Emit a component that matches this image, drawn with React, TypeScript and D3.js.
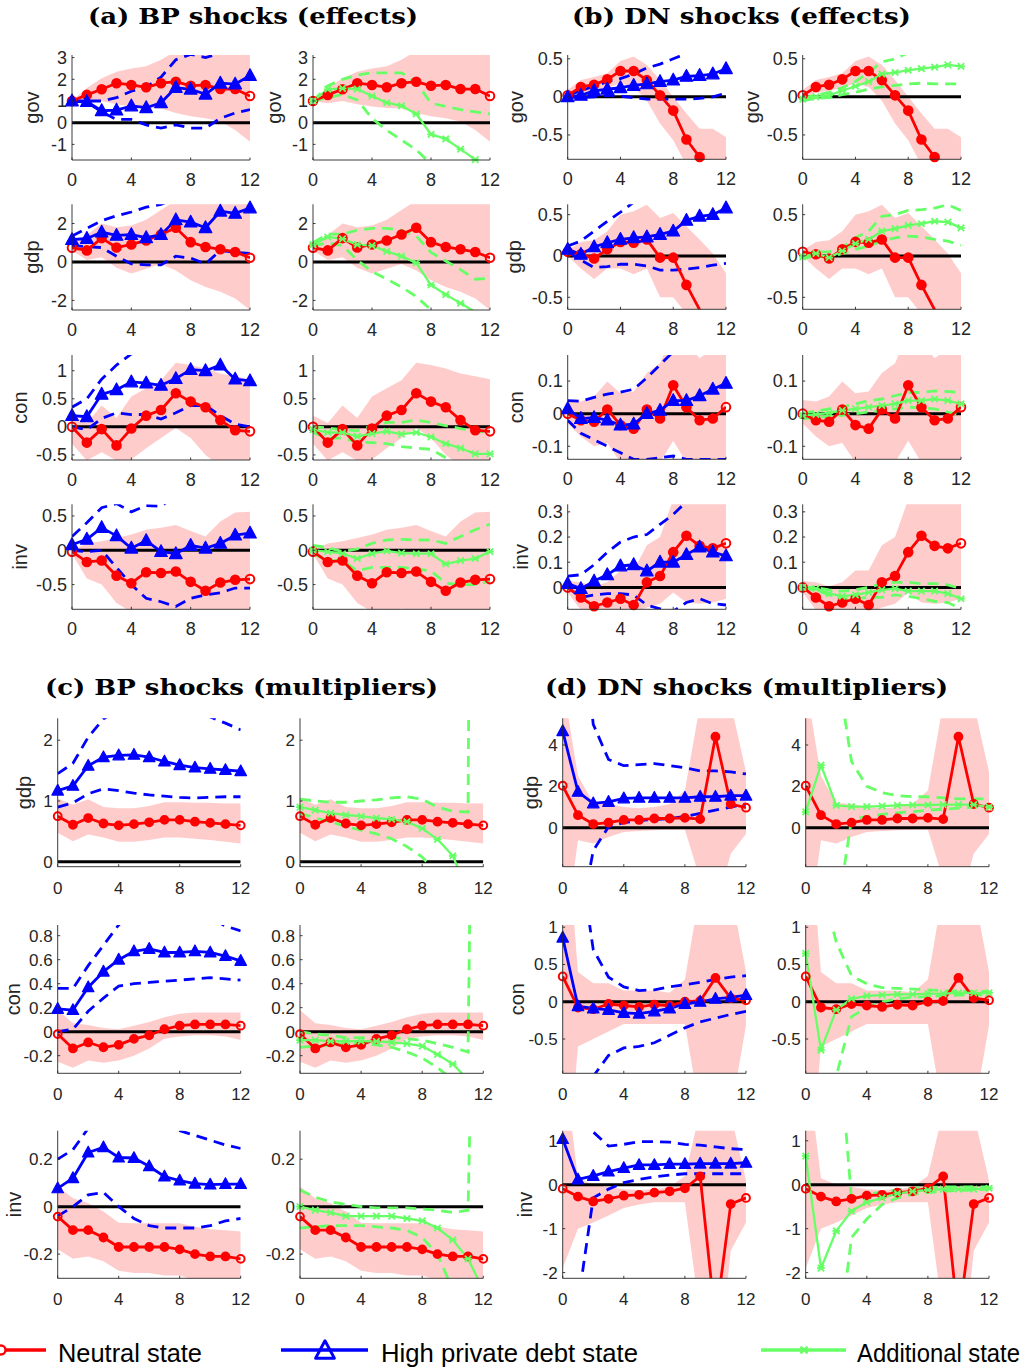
import React from 'react';
import * as d3 from 'd3';

// horizon (quarters) and x tick values
const horizon = [0, 1, 2, 3, 4, 5, 6, 7, 8, 9, 10, 11, 12];
const xTicks = [0, 4, 8, 12];

// ---------- (a) BP shocks (effects) ----------
const aGovN = [1.0, 1.28, 1.54, 1.82, 1.74, 1.63, 1.82, 1.89, 1.7, 1.74, 1.55, 1.55, 1.23];
const aGovNHi = [1.0, 1.6, 2.05, 2.35, 2.5, 2.6, 2.9, 3.3, 3.4, 3.5, 3.5, 3.5, 3.6];
const aGovNLo = [1.0, 0.9, 1.0, 0.85, 0.75, 0.68, 0.65, 0.45, 0.3, 0.2, 0.05, -0.34, -0.88];
const aGovD = [1.0, 0.97, 0.55, 0.58, 0.77, 0.69, 0.92, 1.62, 1.54, 1.31, 1.82, 1.78, 2.17];
const aGovDHi = [1.0, 1.0, 1.0, 1.15, 1.45, 1.65, 2.1, 2.9, 3.15, 3.0, 3.2, 3.3, 3.4];
const aGovDLo = [1.0, 0.95, 0.5, 0.15, 0.15, -0.1, -0.25, -0.1, -0.25, -0.25, 0.2, 0.45, 0.6];
const aGovA = [1.0, 1.54, 1.58, 1.55, 1.23, 0.92, 0.78, 0.4, -0.54, -0.75, -1.22, -1.7, -2.3];
const aGovAHi = [1.0, 1.7, 2.0, 2.2, 2.3, 2.3, 2.3, 1.85, 0.9, 0.75, 0.6, 0.5, 0.4];
const aGovALo = [1.0, 1.15, 1.3, 1.05, 0.2, -0.35, -0.8, -1.25, -1.9, -2.5, -3.0, -3.5, -4.0];

const aGdpN = [0.74, 0.6, 1.24, 0.75, 0.91, 1.12, 1.43, 1.78, 1.03, 0.78, 0.66, 0.52, 0.22];
const aGdpNHi = [0.9, 1.4, 2.0, 1.8, 1.9, 2.2, 2.7, 3.2, 3.2, 3.2, 3.2, 3.2, 3.2];
const aGdpNLo = [0.6, 0.1, 0.25, -0.3, -0.6, -0.35, -0.1, -0.45, -0.95, -1.3, -1.55, -1.9, -2.5];
const aGdpD = [1.16, 1.22, 1.55, 1.38, 1.42, 1.26, 1.42, 2.19, 2.07, 1.78, 2.64, 2.53, 2.81];
const aGdpDHi = [1.35, 1.75, 2.15, 2.4, 2.6, 2.85, 3.0, 3.3, 3.5, 3.6, 3.8, 4.0, 4.2];
const aGdpDLo = [0.85, 0.8, 0.75, 0.3, -0.1, -0.15, -0.15, 0.3, 0.2, -0.1, 0.6, 0.5, 0.45];
const aGdpA = [0.9, 1.3, 1.2, 0.9, 0.85, 0.55, 0.3, -0.05, -1.2, -1.7, -2.15, -2.6, -3.0];
const aGdpAHi = [1.0, 1.45, 1.45, 1.65, 1.75, 1.75, 1.65, 1.35, 0.5, 0.05, -0.4, -0.9, -0.85];
const aGdpALo = [0.85, 1.0, 0.85, 0.1, -0.5, -0.9, -1.3, -1.8, -2.5, -3.0, -3.5, -4.0, -4.5];

const aConN = [0.0, -0.28, -0.04, -0.33, -0.03, 0.2, 0.3, 0.6, 0.45, 0.35, 0.12, -0.06, -0.08];
const aConNHi = [0.2, 0.07, 0.38, 0.16, 0.54, 0.69, 0.83, 1.14, 1.1, 1.04, 0.95, 0.9, 0.85];
const aConNLo = [-0.3, -0.6, -0.45, -0.6, -0.58, -0.38, -0.2, -0.02, -0.2, -0.5, -0.7, -0.75, -0.8];
const aConD = [0.2, 0.18, 0.58, 0.66, 0.8, 0.78, 0.74, 0.86, 1.02, 1.0, 1.1, 0.85, 0.82];
const aConDHi = [0.35, 0.5, 0.85, 1.1, 1.3, 1.32, 1.35, 1.5, 1.6, 1.7, 1.8, 1.9, 2.0];
const aConDLo = [0.0, -0.05, 0.15, 0.25, 0.22, 0.22, 0.14, 0.25, 0.38, 0.38, 0.2, 0.05, 0.0];
const aConA = [-0.05, -0.1, -0.1, -0.17, -0.12, -0.08, -0.13, -0.1, -0.18, -0.3, -0.38, -0.48, -0.48];
const aConAHi = [0.0, -0.02, -0.05, -0.07, 0.02, 0.08, 0.08, 0.12, 0.08, 0.02, -0.03, -0.08, -0.1];
const aConALo = [-0.1, -0.2, -0.2, -0.27, -0.28, -0.3, -0.35, -0.38, -0.4, -0.55, -0.7, -0.85, -0.9];

const aInvN = [-0.02, -0.17, -0.15, -0.37, -0.48, -0.32, -0.33, -0.31, -0.46, -0.59, -0.47, -0.43, -0.42];
const aInvNHi = [0.0, 0.1, 0.13, 0.18, 0.23, 0.3, 0.33, 0.37, 0.28, 0.2, 0.42, 0.55, 0.56];
const aInvNLo = [-0.05, -0.41, -0.5, -0.77, -0.9, -0.88, -0.85, -0.9, -0.95, -1.0, -1.0, -1.0, -1.0];
const aInvD = [0.08, 0.16, 0.33, 0.21, 0.03, 0.14, -0.02, -0.05, 0.07, 0.03, 0.1, 0.22, 0.25];
const aInvDHi = [0.2, 0.4, 0.62, 0.68, 0.56, 0.65, 0.64, 0.8, 0.9, 1.0, 1.0, 1.0, 1.0];
const aInvDLo = [0.0, -0.02, 0.0, -0.25, -0.5, -0.7, -0.75, -0.82, -0.7, -0.65, -0.62, -0.55, -0.55];
const aInvA = [0.0, -0.02, -0.05, -0.12, -0.05, -0.01, -0.04, -0.05, -0.05, -0.2, -0.15, -0.12, -0.02];
const aInvAHi = [0.07, 0.04, -0.02, 0.02, 0.1, 0.15, 0.16, 0.15, 0.15, 0.1, 0.2, 0.3, 0.38];
const aInvALo = [-0.05, -0.15, -0.15, -0.3, -0.25, -0.25, -0.25, -0.27, -0.3, -0.48, -0.5, -0.5, -0.45];

// ---------- (b) DN shocks (effects) ----------
const bGovN = [0.02, 0.13, 0.16, 0.23, 0.34, 0.34, 0.22, 0.02, -0.18, -0.56, -0.79, -0.9, -1.0];
const bGovNHi = [0.09, 0.22, 0.26, 0.31, 0.47, 0.53, 0.42, 0.22, 0.0, -0.22, -0.42, -0.42, -0.53];
const bGovNLo = [-0.02, 0.05, 0.08, 0.12, 0.18, 0.13, -0.05, -0.35, -0.57, -0.9, -1.2, -1.3, -1.3];
const bGovD = [0.0, 0.02, 0.08, 0.1, 0.12, 0.15, 0.17, 0.2, 0.22, 0.27, 0.28, 0.3, 0.37];
const bGovDHi = [0.02, 0.08, 0.14, 0.2, 0.24, 0.3, 0.38, 0.43, 0.5, 0.57, 0.62, 0.68, 0.74];
const bGovDLo = [0.0, -0.01, 0.0, 0.02, 0.01, -0.01, -0.03, -0.03, -0.03, -0.03, -0.02, 0.0, 0.05];
const bGovA = [-0.03, 0.0, 0.02, 0.08, 0.14, 0.2, 0.3, 0.32, 0.35, 0.37, 0.39, 0.42, 0.4];
const bGovAHi = [-0.01, 0.02, 0.06, 0.12, 0.2, 0.32, 0.46, 0.5, 0.58, 0.62, 0.66, 0.7, 0.74];
const bGovALo = [-0.05, -0.02, -0.01, 0.03, 0.06, 0.1, 0.13, 0.15, 0.17, 0.18, 0.17, 0.17, 0.17];

const bGdpN = [0.05, 0.02, -0.03, 0.08, 0.17, 0.16, 0.2, -0.02, -0.02, -0.35, -0.65, -0.8, -0.95];
const bGdpNHi = [0.07, 0.17, 0.19, 0.3, 0.5, 0.54, 0.62, 0.46, 0.52, 0.36, 0.2, 0.03, -0.21];
const bGdpNLo = [0.0, -0.15, -0.28, -0.15, -0.15, -0.22, -0.15, -0.5, -0.5, -0.7, -1.0, -1.2, -1.3];
const bGdpD = [0.08, 0.02, 0.11, 0.16, 0.2, 0.22, 0.23, 0.26, 0.3, 0.43, 0.48, 0.5, 0.58];
const bGdpDHi = [0.12, 0.18, 0.3, 0.42, 0.53, 0.65, 0.75, 0.85, 0.95, 1.05, 1.15, 1.25, 1.35];
const bGdpDLo = [0.05, -0.05, -0.14, -0.13, -0.1, -0.1, -0.12, -0.17, -0.17, -0.16, -0.14, -0.11, -0.09];
const bGdpA = [-0.01, 0.03, -0.02, 0.06, 0.15, 0.2, 0.3, 0.33, 0.37, 0.39, 0.42, 0.41, 0.34];
const bGdpAHi = [0.02, 0.05, 0.05, 0.1, 0.22, 0.3, 0.48, 0.5, 0.55, 0.56, 0.58, 0.62, 0.55];
const bGdpALo = [-0.03, 0.0, -0.02, 0.03, 0.08, 0.12, 0.18, 0.22, 0.24, 0.23, 0.2, 0.18, 0.13];

const bConN = [0.0, -0.02, -0.025, 0.013, -0.035, -0.046, 0.013, -0.015, 0.087, 0.02, -0.02, -0.015, 0.02];
const bConNHi = [0.042, 0.037, 0.053, 0.099, 0.063, 0.068, 0.125, 0.155, 0.25, 0.22, 0.17, 0.2, 0.2];
const bConNLo = [-0.03, -0.07, -0.1, -0.09, -0.15, -0.17, -0.16, -0.15, -0.083, -0.15, -0.17, -0.17, -0.15];
const bConD = [0.015, -0.015, -0.012, -0.02, -0.035, -0.032, 0.0, 0.01, 0.04, 0.04, 0.055, 0.075, 0.093];
const bConDHi = [0.04, 0.038, 0.05, 0.06, 0.066, 0.075, 0.11, 0.15, 0.19, 0.22, 0.25, 0.28, 0.3];
const bConDLo = [-0.02, -0.06, -0.08, -0.1, -0.12, -0.14, -0.14, -0.135, -0.13, -0.14, -0.14, -0.14, -0.14];
const bConA = [-0.005, -0.002, 0.002, 0.01, 0.015, 0.02, 0.025, 0.03, 0.04, 0.04, 0.045, 0.04, 0.03];
const bConAHi = [0.002, 0.008, 0.015, 0.02, 0.03, 0.04, 0.045, 0.055, 0.065, 0.065, 0.07, 0.068, 0.065];
const bConALo = [-0.015, -0.012, -0.008, -0.005, 0.0, 0.005, 0.01, 0.015, 0.02, 0.018, 0.015, 0.005, -0.005];

const bInvN = [0.0, -0.04, -0.075, -0.06, -0.045, -0.07, 0.02, 0.045, 0.14, 0.205, 0.165, 0.155, 0.175];
const bInvNHi = [0.025, 0.02, 0.005, 0.02, 0.067, 0.067, 0.167, 0.2, 0.35, 0.35, 0.35, 0.35, 0.35];
const bInvNLo = [-0.02, -0.09, -0.11, -0.11, -0.1, -0.1, -0.08, -0.065, -0.02, -0.06, -0.065, -0.06, -0.045];
const bInvD = [0.015, -0.005, 0.025, 0.05, 0.085, 0.09, 0.065, 0.1, 0.1, 0.13, 0.16, 0.14, 0.125];
const bInvDHi = [0.045, 0.05, 0.09, 0.14, 0.18, 0.2, 0.21, 0.25, 0.29, 0.34, 0.38, 0.42, 0.46];
const bInvDLo = [0.0, -0.04, -0.03, -0.025, -0.025, -0.03, -0.07, -0.085, -0.095, -0.06, -0.045, -0.065, -0.07];
const bInvA = [0.0, -0.005, -0.025, -0.035, -0.03, -0.02, -0.01, -0.005, -0.015, -0.015, -0.015, -0.025, -0.045];
const bInvAHi = [0.0, 0.0, -0.01, -0.015, -0.01, 0.0, 0.015, 0.02, 0.02, 0.015, 0.015, 0.01, -0.005];
const bInvALo = [-0.005, -0.01, -0.03, -0.045, -0.045, -0.04, -0.04, -0.03, -0.035, -0.045, -0.055, -0.06, -0.085];

// ---------- (c) BP shocks (multipliers) ----------
const cGdpN = [0.75, 0.61, 0.72, 0.63, 0.6, 0.62, 0.65, 0.69, 0.69, 0.66, 0.64, 0.62, 0.6];
const cGdpNHi = [1.04, 0.94, 1.03, 0.9, 0.88, 0.88, 0.92, 0.98, 0.98, 0.97, 0.97, 0.96, 0.96];
const cGdpNLo = [0.48, 0.34, 0.45, 0.4, 0.33, 0.33, 0.36, 0.4, 0.4, 0.38, 0.36, 0.33, 0.3];
const cGdpD = [1.17, 1.25, 1.58, 1.72, 1.75, 1.76, 1.72, 1.65, 1.59, 1.55, 1.53, 1.51, 1.49];
const cGdpDHi = [1.45, 1.62, 2.05, 2.35, 2.5, 2.6, 2.6, 2.6, 2.55, 2.5, 2.38, 2.28, 2.17];
const cGdpDLo = [0.9, 0.97, 1.12, 1.2, 1.17, 1.13, 1.1, 1.08, 1.06, 1.05, 1.06, 1.07, 1.07];
const cGdpA = [0.9, 0.85, 0.8, 0.77, 0.75, 0.72, 0.7, 0.66, 0.55, 0.37, 0.1, -0.5, -1.2];
const cGdpAHi = [1.03, 1.0, 0.98, 0.98, 1.0, 1.02, 1.05, 1.07, 1.03, 0.9, 0.83, 0.82, 40];
const cGdpALo = [0.8, 0.72, 0.66, 0.58, 0.52, 0.46, 0.38, 0.25, 0.08, -0.2, -0.6, -1.2, -2.0];

const cConN = [-0.02, -0.14, -0.09, -0.13, -0.11, -0.06, -0.03, 0.02, 0.05, 0.06, 0.06, 0.06, 0.05];
const cConNHi = [0.18, 0.07, 0.055, 0.03, 0.02, 0.05, 0.08, 0.12, 0.15, 0.16, 0.16, 0.16, 0.16];
const cConNLo = [-0.25, -0.3, -0.24, -0.26, -0.24, -0.2, -0.14, -0.06, -0.04, -0.03, -0.03, -0.04, -0.07];
const cConD = [0.19, 0.18, 0.37, 0.5, 0.6, 0.67, 0.69, 0.66, 0.66, 0.67, 0.66, 0.63, 0.59];
const cConDHi = [0.36, 0.36, 0.55, 0.72, 0.89, 1.0, 1.05, 1.05, 1.02, 1.0, 0.95, 0.88, 0.84];
const cConDLo = [0.0, 0.02, 0.17, 0.28, 0.38, 0.4, 0.41, 0.42, 0.43, 0.44, 0.45, 0.44, 0.43];
const cConA = [-0.07, -0.07, -0.08, -0.08, -0.08, -0.08, -0.09, -0.1, -0.12, -0.19, -0.27, -0.4, -0.6];
const cConAHi = [0.0, -0.02, -0.03, -0.05, -0.05, -0.05, -0.05, -0.06, -0.07, -0.1, -0.13, -0.17, 10];
const cConALo = [-0.13, -0.12, -0.11, -0.1, -0.1, -0.11, -0.13, -0.17, -0.22, -0.3, -0.4, -0.55, -0.8];

const cInvN = [-0.042, -0.099, -0.099, -0.13, -0.17, -0.17, -0.17, -0.17, -0.18, -0.2, -0.21, -0.21, -0.22];
const cInvNHi = [0.085, 0.035, 0.014, -0.02, -0.068, -0.07, -0.07, -0.07, -0.07, -0.085, -0.095, -0.1, -0.105];
const cInvNLo = [-0.18, -0.22, -0.21, -0.23, -0.27, -0.28, -0.28, -0.29, -0.29, -0.31, -0.31, -0.32, -0.33];
const cInvD = [0.077, 0.12, 0.228, 0.25, 0.207, 0.205, 0.17, 0.127, 0.11, 0.097, 0.093, 0.095, 0.095];
const cInvDHi = [0.2, 0.24, 0.33, 0.38, 0.4, 0.4, 0.38, 0.35, 0.32, 0.3, 0.28, 0.26, 0.245];
const cInvDLo = [-0.04, 0.0, 0.05, 0.06, 0.0, -0.05, -0.08, -0.09, -0.09, -0.09, -0.08, -0.06, -0.05];
const cInvA = [0.0, -0.015, -0.025, -0.04, -0.04, -0.04, -0.04, -0.05, -0.06, -0.09, -0.14, -0.22, -0.35];
const cInvAHi = [0.07, 0.04, 0.02, 0.01, 0.0, -0.005, -0.005, -0.005, -0.01, -0.015, -0.025, -0.015, 3];
const cInvALo = [-0.09, -0.085, -0.08, -0.08, -0.08, -0.085, -0.09, -0.1, -0.13, -0.2, -0.35, -0.55, -0.8];

// ---------- (d) DN shocks (multipliers) ----------
const dGdpN = [2.03, 0.61, 0.18, 0.25, 0.38, 0.38, 0.45, 0.45, 0.48, 0.42, 4.4, 1.15, 0.97];
const dGdpNHi = [7, 2.5, 1.2, 1.15, 1.0, 0.95, 1.0, 1.15, 1.8, 6, 7, 6, 2.7];
const dGdpNLo = [-6, -0.6, -0.76, -0.45, -0.2, -0.15, -0.12, -0.1, -0.1, -2.5, -4, -1.25, -0.3];
const dGdpD = [4.67, 1.74, 1.18, 1.25, 1.42, 1.45, 1.45, 1.45, 1.45, 1.5, 1.5, 1.55, 1.55];
const dGdpDHi = [40, 12, 5.0, 3.3, 3.0, 3.05, 3.1, 3.0, 2.9, 2.75, 2.75, 2.7, 2.6];
const dGdpDLo = [-40, -5, -1.1, 0.05, 0.25, 0.35, 0.4, 0.45, 0.55, 0.7, 0.85, 1.0, 1.15];
const dGdpA = [0.77, 3.03, 1.08, 1.02, 1.02, 1.05, 1.08, 1.1, 1.1, 1.12, 1.12, 1.12, 1.0];
const dGdpAHi = [40, 20, 8, 3.2, 2.0, 1.7, 1.55, 1.5, 1.5, 1.45, 1.4, 1.4, 1.4];
const dGdpALo = [-40, -20, -4.4, 0.4, 0.55, 0.65, 0.72, 0.78, 0.85, 0.9, 0.95, 1.0, 1.05];

const dConN = [0.34, -0.077, -0.1, -0.03, -0.05, -0.07, -0.04, -0.05, 0.0, 0.01, 0.32, 0.05, 0.02];
const dConNHi = [3, 0.4, 0.25, 0.25, 0.15, 0.15, 0.15, 0.12, 0.3, 1.5, 3, 1.5, 0.4];
const dConNLo = [-3, -0.6, -0.5, -0.4, -0.3, -0.3, -0.3, -0.3, -0.3, -1.5, -2, -1.5, -0.32];
const dConD = [0.86, -0.06, -0.09, -0.11, -0.15, -0.16, -0.13, -0.09, -0.03, 0.0, 0.04, 0.06, 0.09];
const dConDHi = [10, 2.1, 0.7, 0.33, 0.2, 0.15, 0.16, 0.2, 0.23, 0.26, 0.3, 0.33, 0.35];
const dConDLo = [-30, -5, -1.0, -0.72, -0.62, -0.6, -0.55, -0.45, -0.35, -0.27, -0.22, -0.17, -0.13];
const dConA = [0.65, -0.65, -0.11, 0.04, 0.08, 0.09, 0.1, 0.1, 0.11, 0.11, 0.12, 0.12, 0.12];
const dConAHi = [20, 1.6, 0.8, 0.35, 0.24, 0.19, 0.18, 0.17, 0.16, 0.15, 0.14, 0.14, 0.14];
const dConALo = [-20, -5, -1.0, -0.2, -0.08, 0.0, 0.04, 0.06, 0.07, 0.08, 0.09, 0.09, 0.1];

const dInvN = [-0.09, -0.27, -0.38, -0.32, -0.25, -0.23, -0.18, -0.15, -0.08, 0.19, -3.1, -0.44, -0.3];
const dInvNHi = [3, 0.15, 0.0, -0.05, -0.1, -0.12, -0.1, -0.05, 0.2, 1.68, 3, 1.61, 0.1];
const dInvNLo = [-1.9, -1.0, -0.86, -0.7, -0.53, -0.45, -0.4, -0.4, -0.4, -3, -5, -1.5, -0.86];
const dInvD = [1.04, 0.12, 0.2, 0.3, 0.38, 0.45, 0.45, 0.47, 0.47, 0.48, 0.48, 0.48, 0.5];
const dInvDHi = [20, 3, 1.2, 0.88, 0.92, 0.98, 0.98, 0.97, 0.92, 0.9, 0.86, 0.82, 0.8];
const dInvDLo = [-20, -2.7, -0.3, -0.1, 0.05, 0.12, 0.18, 0.22, 0.25, 0.25, 0.25, 0.25, 0.25];
const dInvA = [0.65, -1.9, -1.05, -0.6, -0.4, -0.3, -0.2, -0.15, -0.12, -0.1, -0.1, -0.1, -0.08];
const dInvAHi = [20, 8, 4, -0.35, -0.22, -0.17, -0.12, -0.08, -0.06, -0.05, -0.05, -0.05, -0.05];
const dInvALo = [-20, -10, -4, -1.2, -0.78, -0.45, -0.3, -0.22, -0.18, -0.15, -0.13, -0.12, -0.1];

const RED = '#ff0000';
const BLUE = '#0000ff';
const GREEN = '#66ff66';
const PINK = '#ffcccc';
const AXIS = '#262626';
const SANS = "'Liberation Sans', Arial, Helvetica, sans-serif";

type Series = { mid: number[]; lo: number[]; hi: number[] };
type RowDef = {
  name: string;
  domain: [number, number];
  ticks: number[];
  neutral: Series;
  debt: Series;
  add: Series;
  labelX: number;
};
type Block = {
  key: string;
  cols: [number, number][];
  rows: [number, number][];
  fs: number;
  xGap: number;
  rightLabelX?: number;
  defs: RowDef[];
};

const S = (mid: number[], lo: number[], hi: number[]): Series => ({ mid, lo, hi });

const blocks: Block[] = [
  {
    key: 'a', fs: 18, xGap: 26, rightLabelX: 281,
    cols: [[72, 250], [313, 490]],
    rows: [[55, 160], [204.3, 310], [355, 460], [504.3, 609.3]],
    defs: [
      { name: 'gov', domain: [-1.72, 3.12], ticks: [-1, 0, 1, 2, 3], labelX: 39,
        neutral: S(aGovN, aGovNLo, aGovNHi), debt: S(aGovD, aGovDLo, aGovDHi), add: S(aGovA, aGovALo, aGovAHi) },
      { name: 'gdp', domain: [-2.5, 3.0], ticks: [-2, 0, 2], labelX: 39,
        neutral: S(aGdpN, aGdpNLo, aGdpNHi), debt: S(aGdpD, aGdpDLo, aGdpDHi), add: S(aGdpA, aGdpALo, aGdpAHi) },
      { name: 'con', domain: [-0.59, 1.28], ticks: [-0.5, 0, 0.5, 1], labelX: 27,
        neutral: S(aConN, aConNLo, aConNHi), debt: S(aConD, aConDLo, aConDHi), add: S(aConA, aConALo, aConAHi) },
      { name: 'inv', domain: [-0.86, 0.67], ticks: [-0.5, 0, 0.5], labelX: 27,
        neutral: S(aInvN, aInvNLo, aInvNHi), debt: S(aInvD, aInvDLo, aInvDHi), add: S(aInvA, aInvALo, aInvAHi) },
    ],
  },
  {
    key: 'b', fs: 18, xGap: 26, rightLabelX: 759,
    cols: [[567.7, 726], [802.7, 961]],
    rows: [[55, 159.3], [204.3, 309.3], [355, 459.3], [504.3, 609.3]],
    defs: [
      { name: 'gov', domain: [-0.82, 0.55], ticks: [-0.5, 0, 0.5], labelX: 523,
        neutral: S(bGovN, bGovNLo, bGovNHi), debt: S(bGovD, bGovDLo, bGovDHi), add: S(bGovA, bGovALo, bGovAHi) },
      { name: 'gdp', domain: [-0.645, 0.625], ticks: [-0.5, 0, 0.5], labelX: 521,
        neutral: S(bGdpN, bGdpNLo, bGdpNHi), debt: S(bGdpD, bGdpDLo, bGdpDHi), add: S(bGdpA, bGdpALo, bGdpAHi) },
      { name: 'con', domain: [-0.14, 0.18], ticks: [-0.1, 0, 0.1], labelX: 523,
        neutral: S(bConN, bConNLo, bConNHi), debt: S(bConD, bConDLo, bConDHi), add: S(bConA, bConALo, bConAHi) },
      { name: 'inv', domain: [-0.087, 0.33], ticks: [0, 0.1, 0.2, 0.3], labelX: 528,
        neutral: S(bInvN, bInvNLo, bInvNHi), debt: S(bInvD, bInvDLo, bInvDHi), add: S(bInvA, bInvALo, bInvAHi) },
    ],
  },
  {
    key: 'c', fs: 17, xGap: 27,
    cols: [[57.7, 240.7], [300, 483.3]],
    rows: [[718.3, 866.7], [925, 1073.3], [1130.7, 1278.3]],
    defs: [
      { name: 'gdp', domain: [-0.08, 2.36], ticks: [0, 1, 2], labelX: 31,
        neutral: S(cGdpN, cGdpNLo, cGdpNHi), debt: S(cGdpD, cGdpDLo, cGdpDHi), add: S(cGdpA, cGdpALo, cGdpAHi) },
      { name: 'con', domain: [-0.347, 0.889], ticks: [-0.2, 0, 0.2, 0.4, 0.6, 0.8], labelX: 20,
        neutral: S(cConN, cConNLo, cConNHi), debt: S(cConD, cConDLo, cConDHi), add: S(cConA, cConALo, cConAHi) },
      { name: 'inv', domain: [-0.302, 0.32], ticks: [-0.2, 0, 0.2], labelX: 21,
        neutral: S(cInvN, cInvNLo, cInvNHi), debt: S(cInvD, cInvDLo, cInvDHi), add: S(cInvA, cInvALo, cInvAHi) },
    ],
  },
  {
    key: 'd', fs: 17, xGap: 27,
    cols: [[562.7, 746], [805.7, 989]],
    rows: [[718.3, 866.7], [925, 1073.3], [1130.7, 1278.3]],
    defs: [
      { name: 'gdp', domain: [-1.88, 5.29], ticks: [0, 2, 4], labelX: 538,
        neutral: S(dGdpN, dGdpNLo, dGdpNHi), debt: S(dGdpD, dGdpDLo, dGdpDHi), add: S(dGdpA, dGdpALo, dGdpAHi) },
      { name: 'con', domain: [-0.96, 1.03], ticks: [-0.5, 0, 0.5, 1], labelX: 524,
        neutral: S(dConN, dConNLo, dConNHi), debt: S(dConD, dConDLo, dConDHi), add: S(dConA, dConALo, dConAHi) },
      { name: 'inv', domain: [-2.13, 1.23], ticks: [-2, -1, 0, 1], labelX: 532,
        neutral: S(dInvN, dInvNLo, dInvNHi), debt: S(dInvD, dInvDLo, dInvDHi), add: S(dInvA, dInvALo, dInvAHi) },
    ],
  },
];

const titles = [
  { text: '(a) BP shocks (effects)', cx: 253, y: 24, len: 330 },
  { text: '(b) DN shocks (effects)', cx: 741.5, y: 24, len: 339 },
  { text: '(c) BP shocks (multipliers)', cx: 241.5, y: 695, len: 393 },
  { text: '(d) DN shocks (multipliers)', cx: 746.5, y: 695, len: 403 },
];

const legendItems = [
  { label: 'Neutral state', kind: 'neutral', x1: -20, x2: 46, mx: 1, tx: 58, len: 144 },
  { label: 'High private debt state', kind: 'debt', x1: 281, x2: 368, mx: 325, tx: 381, len: 257 },
  { label: 'Additional state', kind: 'add', x1: 761, x2: 846, mx: 804, tx: 857, len: 163 },
];

function triangle(cx: number, cy: number, s: number) {
  return `M${cx},${cy - s * 0.6}L${cx + s * 0.55},${cy + s * 0.42}L${cx - s * 0.55},${cy + s * 0.42}Z`;
}
function asterisk(cx: number, cy: number, s: number) {
  return `M${cx - s},${cy - s}L${cx + s},${cy + s}M${cx - s},${cy + s}L${cx + s},${cy - s}M${cx - s * 1.2},${cy}L${cx + s * 1.2},${cy}`;
}

function Marker({ kind, cx, cy, last, small }: { kind: string; cx: number; cy: number; last?: boolean; small?: boolean }) {
  if (kind === 'neutral')
    return <circle cx={cx} cy={cy} r={small ? 3.9 : 4.3} fill={last ? 'none' : RED} stroke={RED} strokeWidth={2} />;
  if (kind === 'debt')
    return <path d={triangle(cx, cy, small ? 10.5 : 11.5)} fill={BLUE} stroke={BLUE} strokeWidth={1.2} strokeLinejoin="round" />;
  return <path d={asterisk(cx, cy, 3.2)} fill="none" stroke={GREEN} strokeWidth={1.8} />;
}

function Panel({ id, left, right, top, bottom, def, kind, fs, xGap, labelX }: {
  id: string; left: number; right: number; top: number; bottom: number; def: RowDef;
  kind: 'debt' | 'add'; fs: number; xGap: number; labelX?: number;
}) {
  const x = d3.scaleLinear().domain([0, 12]).range([left, right]);
  const y = d3.scaleLinear().domain(def.domain).range([bottom, top]);
  const line = d3.line<number>().x((_, i) => x(horizon[i])).y((d) => y(d));
  const band = d3.area<number>()
    .x((_, i) => x(horizon[i]))
    .y0((_, i) => y(def.neutral.lo[i]))
    .y1((d) => y(d));
  const alt = kind === 'debt' ? def.debt : def.add;
  const altColor = kind === 'debt' ? BLUE : GREEN;
  const inside = (v: number) => v >= def.domain[0] - 1e-6 && v <= def.domain[1] + 1e-6;
  const clipId = `clip-${id}`;
  const small = fs < 18;
  return (
    <g>
      <defs>
        <clipPath id={clipId}>
          <rect x={left} y={top} width={right - left} height={bottom - top} />
        </clipPath>
      </defs>
      <g clipPath={`url(#${clipId})`}>
        <path d={band(def.neutral.hi) || ''} fill={PINK} stroke="none" />
        <line x1={x(0)} x2={x(12)} y1={y(0)} y2={y(0)} stroke="#000" strokeWidth={3} />
        <path d={line(alt.lo) || ''} fill="none" stroke={altColor} strokeWidth={2.8} strokeDasharray="11 7" />
        <path d={line(alt.hi) || ''} fill="none" stroke={altColor} strokeWidth={2.8} strokeDasharray="11 7" />
        <path d={line(def.neutral.mid) || ''} fill="none" stroke={RED} strokeWidth={2.8} strokeLinejoin="round" />
        <path d={line(alt.mid) || ''} fill="none" stroke={altColor} strokeWidth={kind === 'debt' ? 2.8 : 2.3} strokeLinejoin="round" />
      </g>
      {def.neutral.mid.map((v, i) =>
        inside(v) ? <Marker key={`n${i}`} kind="neutral" cx={x(horizon[i])} cy={y(v)} last={i === 0 || i === 12} small={small} /> : null
      )}
      {alt.mid.map((v, i) =>
        inside(v) ? <Marker key={`a${i}`} kind={kind} cx={x(horizon[i])} cy={y(v)} small={small} /> : null
      )}
      {/* axes */}
      <line x1={left} x2={left} y1={top} y2={bottom} stroke={AXIS} strokeWidth={0.9} />
      <line x1={left} x2={right} y1={bottom} y2={bottom} stroke={AXIS} strokeWidth={0.9} />
      {def.ticks.map((t) => (
        <g key={`yt${t}`}>
          <line x1={left} x2={left + 2.5} y1={y(t)} y2={y(t)} stroke={AXIS} strokeWidth={0.9} />
          <text x={left - 5} y={y(t)} dy="0.35em" textAnchor="end" fontSize={fs} fontFamily={SANS} fill={AXIS}>
            {String(t)}
          </text>
        </g>
      ))}
      {xTicks.map((t) => (
        <g key={`xt${t}`}>
          <line x1={x(t)} x2={x(t)} y1={bottom} y2={bottom - 2.5} stroke={AXIS} strokeWidth={0.9} />
          <text x={x(t)} y={bottom + xGap} textAnchor="middle" fontSize={fs} fontFamily={SANS} fill={AXIS}>
            {String(t)}
          </text>
        </g>
      ))}
      {labelX !== undefined && (
        <text
          transform={`translate(${labelX},${(top + bottom) / 2}) rotate(-90)`}
          textAnchor="middle"
          fontSize={20}
          fontFamily={SANS}
          fill={AXIS}
        >
          {def.name}
        </text>
      )}
    </g>
  );
}

export default function App() {
  return (
    <div style={{ position: 'absolute', left: 0, top: 0 }}>
      <svg width={1036} height={1368} viewBox="0 0 1036 1368" style={{ display: 'block', background: '#fff' }}>
        {titles.map((t) => (
          <text
            key={t.text}
            x={t.cx}
            y={t.y}
            textAnchor="middle"
            fontFamily="'DejaVu Serif', 'Liberation Serif', serif"
            fontWeight="bold"
            fontSize={23}
            textLength={t.len}
            lengthAdjust="spacingAndGlyphs"
            fill="#000"
          >
            {t.text}
          </text>
        ))}
        {blocks.map((b) =>
          b.defs.map((def, r) =>
            b.cols.map((c, ci) => (
              <Panel
                key={`${b.key}-${r}-${ci}`}
                id={`${b.key}-${r}-${ci}`}
                left={c[0]}
                right={c[1]}
                top={b.rows[r][0]}
                bottom={b.rows[r][1]}
                def={def}
                kind={ci === 0 ? 'debt' : 'add'}
                fs={b.fs}
                xGap={b.xGap}
                labelX={ci === 0 ? def.labelX : r === 0 ? b.rightLabelX : undefined}
              />
            ))
          )
        )}
        {legendItems.map((it) => {
          const color = it.kind === 'neutral' ? RED : it.kind === 'debt' ? BLUE : GREEN;
          return (
            <g key={it.label}>
              <line x1={it.x1} x2={it.x2} y1={1350} y2={1350} stroke={color} strokeWidth={3.6} />
              {it.kind === 'neutral' ? (
                <circle cx={it.mx} cy={1350} r={4.5} fill="#fff" stroke={RED} strokeWidth={2.4} />
              ) : it.kind === 'debt' ? (
                <path d={triangle(it.mx, 1351, 17)} fill="none" stroke={BLUE} strokeWidth={3} strokeLinejoin="round" />
              ) : (
                <path d={asterisk(it.mx, 1350, 3.5)} fill="none" stroke={GREEN} strokeWidth={2.4} />
              )}
              <text
                x={it.tx}
                y={1361.5}
                fontSize={26}
                fontFamily={SANS}
                textLength={it.len}
                lengthAdjust="spacingAndGlyphs"
                fill="#000"
              >
                {it.label}
              </text>
            </g>
          );
        })}
      </svg>
    </div>
  );
}
